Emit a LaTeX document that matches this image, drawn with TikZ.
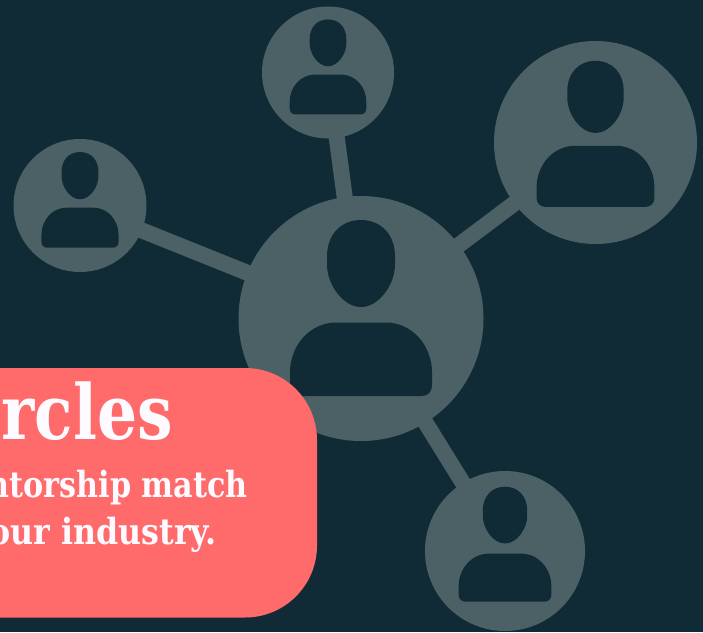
\documentclass[tikz,border=0pt]{standalone}
\usepackage{fontspec}
\setmainfont{DejaVu Serif}
\newfontfamily\titlefont{DejaVu Serif}[FakeStretch=0.83]
\newfontfamily\subfonta{DejaVu Serif}[FakeStretch=0.84]
\newfontfamily\subfontb{DejaVu Serif}[FakeStretch=0.88]
\definecolor{bgc}{HTML}{112B36}
\definecolor{disc}{HTML}{4C6166}
\definecolor{coral}{HTML}{FF6B6B}
\definecolor{ink}{HTML}{FDFBFF}
\tikzset{
  hub/.style={circle,fill=disc,draw=none,inner sep=0pt,minimum size=#1},
  spoke/.style={draw=disc,line width=16pt},
  titletxt/.style={anchor=base east,inner sep=0pt,text=ink,font=\titlefont\fontsize{76}{76}\selectfont\bfseries},
  subtxta/.style={anchor=base east,inner sep=0pt,text=ink,font=\subfonta\fontsize{36}{36}\selectfont\bfseries},
  subtxtb/.style={anchor=base east,inner sep=0pt,text=ink,font=\subfontb\fontsize{36}{36}\selectfont\bfseries}
}
\newcommand{\personfig}[2]{%
  \begin{scope}[shift={(#1)},scale=#2,x=1pt,y=-1pt]
    \fill[bgc] (0,-98.5) .. controls (20,-98.5) and (34,-84) .. (34,-62)
      -- (34,-54) .. controls (34,-34) and (18,-11.5) .. (0,-11.5)
      .. controls (-18,-11.5) and (-34,-34) .. (-34,-54) -- (-34,-62)
      .. controls (-34,-84) and (-20,-98.5) .. (0,-98.5) -- cycle;
    \fill[bgc] (-25,4) -- (25,4) .. controls (50,4) and (71,26) .. (71,54)
      -- (71,67) .. controls (71,73) and (67,77.5) .. (61,77.5)
      -- (-61,77.5) .. controls (-67,77.5) and (-71,73) .. (-71,67)
      -- (-71,54) .. controls (-71,26) and (-50,4) .. (-25,4) -- cycle;
  \end{scope}}
\begin{document}
\begin{tikzpicture}[x=1pt,y=-1pt]
  \useasboundingbox (0,0) rectangle (703,632);
  \fill[bgc] (0,0) rectangle (703,632);
  \node[hub=245pt] (centre) at (361,318.5) {};
  \node[hub=132pt] (top) at (328,72.5) {};
  \node[hub=203pt] (right) at (595.5,142.5) {};
  \node[hub=133pt] (left) at (80,205.5) {};
  \node[hub=160pt] (bottom) at (505,551) {};
  \draw[spoke] (centre.center) -- (top.center);
  \draw[spoke] (centre.center) -- (right.center);
  \draw[spoke] (centre.center) -- (left.center);
  \draw[spoke] (centre.center) -- (bottom.center);
  \personfig{361pt,-318.5pt}{1}
  \personfig{328pt,-72.5pt}{0.539}
  \personfig{595.5pt,-142.5pt}{0.829}
  \personfig{80pt,-205.5pt}{0.543}
  \personfig{505pt,-551pt}{0.653}
  \fill[coral] (-100,368) -- (245,368) .. controls (284.8,368) and (317,400.2) .. (317,440)
    -- (317,545.5) .. controls (317,585.3) and (284.8,617.5) .. (245,617.5) -- (-100,617.5) -- cycle;
  \node[titletxt] (title) at (173,439) {rcles};
  \node[subtxta] (sub1) at (248,497) {ntorship match};
  \node[subtxtb] (sub2) at (217,544) {our industry.};
\end{tikzpicture}
\end{document}
